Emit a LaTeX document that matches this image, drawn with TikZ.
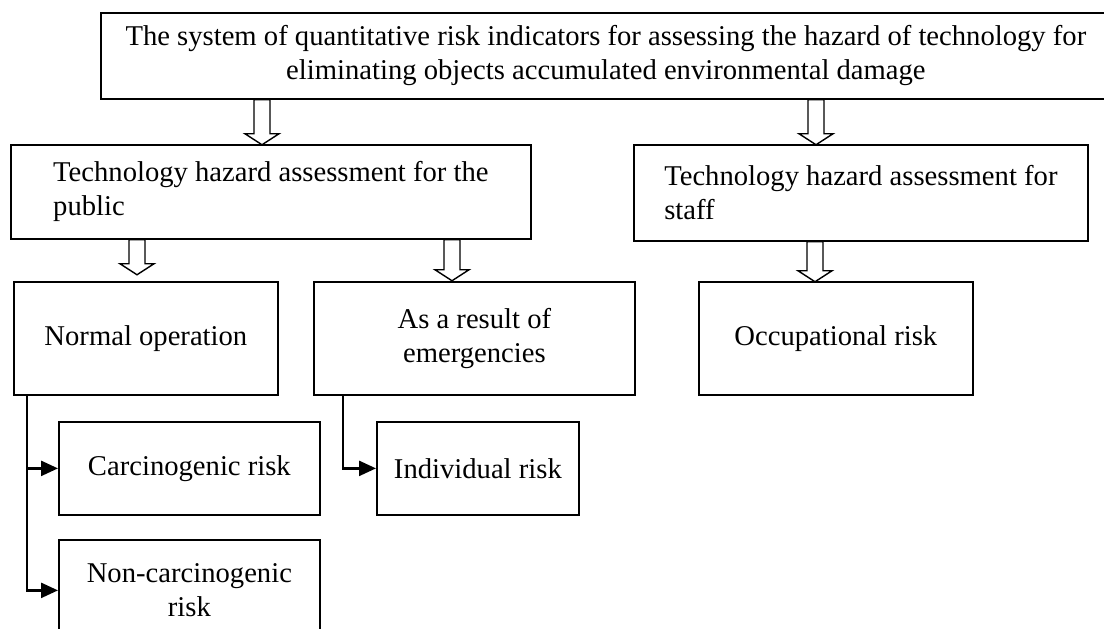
\documentclass[tikz,border=0pt]{standalone}
\usepackage{fontspec}
\setmainfont{Liberation Serif}
\usetikzlibrary{arrows.meta, calc}

% hollow block arrow: #1 top centre, #2 length (px)
\newcommand{\hollowarr}[2]{%
  \draw[harr] #1 ++(-8,0) -- ++(0,{#2-11}) -- ++(-9,0) -- ++(17,11)
    -- ++(17,-11) -- ++(-9,0) -- ++(0,{11-#2}) -- cycle;}

\begin{document}
\begin{tikzpicture}[%
  x=0.02cm, y=-0.02cm,
  box/.style={draw, line width=1pt, fill=white, anchor=north west, inner sep=2pt,
    align=center, font=\fontsize{16.3}{19.3}\selectfont},
  sz/.style 2 args={minimum width=#1*0.02cm, minimum height=#2*0.02cm},
  arr/.style={-{Triangle[length=0.34cm, width=0.3cm]}, line width=1.4pt},
  harr/.style={draw, fill=white, line width=0.8pt}
]
\useasboundingbox (0,0) rectangle (1104,628);
\clip (0,0) rectangle (1104,628);

% Top
\node[box, sz={1010}{86}] (top) at (100,12) {The system of quantitative risk indicators for assessing the hazard of technology for\\eliminating objects accumulated environmental damage};

% Public / staff
\node[box, sz={520}{94}, align=left] (public) at (10,144) {Technology hazard assessment for the\\public};
\node[box, sz={454}{96}, align=left] (staff) at (633,144) {Technology hazard assessment for\\staff};

% Third row
\node[box, sz={264}{113}] (normal) at (13,281) {Normal operation};
\node[box, sz={321}{113}] (emerg) at (313,281) {As a result of\\emergencies};
\node[box, sz={274}{113}] (occup) at (698,281) {Occupational risk};

% Risks
\node[box, sz={261}{93}] (carc) at (58,421) {Carcinogenic risk};
\node[box, sz={202}{93}] (indiv) at (376,421) {Individual risk};
\node[box, sz={261}{101}] (noncarc) at (58,539) {Non-carcinogenic\\risk};

% Hollow arrows
\hollowarr{($(top.south west)+(162,0)$)}{45}
\hollowarr{($(top.south west)+(716,0)$)}{45}
\hollowarr{($(public.south west)+(127,0)$)}{35}
\hollowarr{($(public.south west)+(442,0)$)}{41}
\hollowarr{($(staff.south west)+(182,0)$)}{40}

% Branch connectors
\draw[arr] ($(normal.south west)+(14,0)$) |- (carc.west);
\draw[arr] ($(normal.south west)+(14,0)$) |- (noncarc.west);
\draw[arr] ($(emerg.south west)+(30,0)$) |- (indiv.west);
\end{tikzpicture}
\end{document}
